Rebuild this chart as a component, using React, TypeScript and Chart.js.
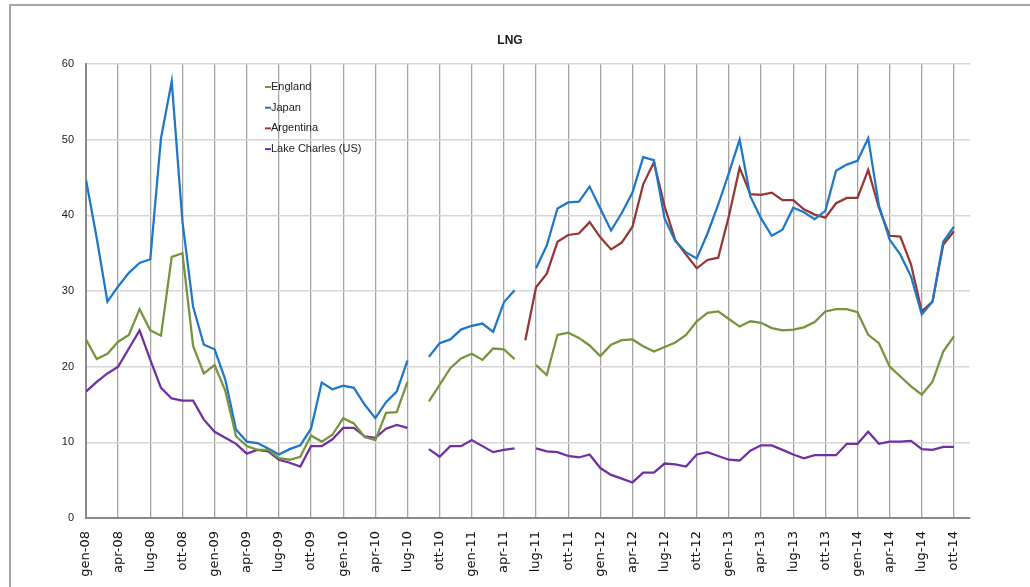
import React, { useEffect, useRef } from 'react';
import { Chart, registerables } from 'chart.js';

Chart.register(...registerables);

const titleText = 'LNG';

const categories = [
  'gen-08', 'feb-08', 'mar-08', 'apr-08', 'mag-08', 'giu-08', 'lug-08', 'ago-08', 'set-08', 'ott-08', 'nov-08', 'dic-08',
  'gen-09', 'feb-09', 'mar-09', 'apr-09', 'mag-09', 'giu-09', 'lug-09', 'ago-09', 'set-09', 'ott-09', 'nov-09', 'dic-09',
  'gen-10', 'feb-10', 'mar-10', 'apr-10', 'mag-10', 'giu-10', 'lug-10', 'ago-10', 'set-10', 'ott-10', 'nov-10', 'dic-10',
  'gen-11', 'feb-11', 'mar-11', 'apr-11', 'mag-11', 'giu-11', 'lug-11', 'ago-11', 'set-11', 'ott-11', 'nov-11', 'dic-11',
  'gen-12', 'feb-12', 'mar-12', 'apr-12', 'mag-12', 'giu-12', 'lug-12', 'ago-12', 'set-12', 'ott-12', 'nov-12', 'dic-12',
  'gen-13', 'feb-13', 'mar-13', 'apr-13', 'mag-13', 'giu-13', 'lug-13', 'ago-13', 'set-13', 'ott-13', 'nov-13', 'dic-13',
  'gen-14', 'feb-14', 'mar-14', 'apr-14', 'mag-14', 'giu-14', 'lug-14', 'ago-14', 'set-14', 'ott-14',
];

const england = [
  23.6, 21.0, 21.7, 23.3, 24.2, 27.6, 24.8, 24.1, 34.5, 35.0, 22.7, 19.1,
  20.2, 16.8, 10.8, 9.5, 9.0, 9.0, 7.9, 7.7, 8.1, 10.9, 10.1, 11.0,
  13.2, 12.5, 10.7, 10.3, 13.9, 14.0, 18.0, null, 15.4, 17.6, 19.8, 21.1,
  21.7, 20.9, 22.4, 22.3, 21.0, null, 20.2, 18.9, 24.2, 24.5, 23.8, 22.8,
  21.4, 22.9, 23.5, 23.6, 22.7, 22.0, 22.6, 23.2, 24.2, 26.0, 27.1, 27.3,
  26.3, 25.3, 26.0, 25.8, 25.1, 24.8, 24.9, 25.2, 25.9, 27.3, 27.6, 27.6,
  27.2, 24.2, 23.1, 20.0, 18.7, 17.4, 16.3, 18.0, 22.0, 24.0,
];

const japan = [
  44.7, 37.0, 28.6, 30.6, 32.4, 33.7, 34.2, 50.2, 57.7, 39.2, 27.9, 22.9,
  22.3, 18.3, 11.7, 10.1, 9.9, 9.2, 8.4, 9.1, 9.6, 11.8, 17.9, 17.0,
  17.5, 17.2, 15.0, 13.2, 15.3, 16.7, 20.8, null, 21.3, 23.1, 23.6, 24.9,
  25.4, 25.7, 24.6, 28.5, 30.1, null, 33.0, 36.0, 40.9, 41.7, 41.8, 43.8,
  40.9, 38.0, 40.3, 43.0, 47.7, 47.3, 39.6, 36.6, 35.1, 34.3, 37.6, 41.4,
  45.6, 50.0, 42.5, 39.6, 37.3, 38.1, 41.0, 40.4, 39.5, 40.6, 45.9, 46.7,
  47.2, 50.2, 41.3, 36.8, 34.8, 31.9, 26.9, 28.6, 36.5, 38.5,
];

const argentina = [
  null, null, null, null, null, null, null, null, null, null, null, null,
  null, null, null, null, null, null, null, null, null, null, null, null,
  null, null, null, null, null, null, null, null, null, null, null, null,
  null, null, null, null, null, 23.5, 30.5, 32.3, 36.5, 37.4, 37.6, 39.1,
  37.1, 35.5, 36.4, 38.5, 44.1, 47.0, 41.2, 36.7, 34.8, 33.0, 34.1, 34.4,
  39.9, 46.3, 42.8, 42.7, 43.0, 42.0, 42.0, 40.8, 40.1, 39.7, 41.6, 42.3,
  42.3, 46.0, 41.0, 37.3, 37.2, 33.5, 27.3, 28.6, 36.1, 37.9,
];

const lakeCharles = [
  16.7, 18.0, 19.1, 20.0, 22.4, 24.8, 20.9, 17.2, 15.8, 15.5, 15.5, 13.0,
  11.4, 10.6, 9.8, 8.5, 9.0, 8.8, 7.7, 7.3, 6.8, 9.5, 9.5, 10.4,
  11.9, 11.9, 10.8, 10.6, 11.8, 12.3, 11.9, null, 9.1, 8.1, 9.5, 9.5,
  10.3, 9.5, 8.7, 9.0, 9.2, null, 9.2, 8.8, 8.7, 8.2, 8.0, 8.4,
  6.6, 5.7, 5.2, 4.7, 6.0, 6.0, 7.2, 7.1, 6.8, 8.4, 8.7, 8.2,
  7.7, 7.6, 8.9, 9.6, 9.6, 9.0, 8.4, 7.9, 8.3, 8.3, 8.3, 9.8,
  9.8, 11.4, 9.8, 10.1, 10.1, 10.2, 9.1, 9.0, 9.4, 9.4,
];

const seriesNames = ['England', 'Japan', 'Argentina', 'Lake Charles (US)'];
const seriesColors = ['#77933C', '#1F77C8', '#953735', '#7030A0'];
const seriesValues = [england, japan, argentina, lakeCharles];

const FONT = '"Liberation Sans", Arial, sans-serif';
const TICK_FONT = '"DejaVu Sans", "Liberation Sans", sans-serif';

const decorations = {
  id: 'decorations',
  beforeDraw(chart: any) {
    const { ctx } = chart;
    ctx.save();
    ctx.fillStyle = '#ffffff';
    ctx.fillRect(0, 0, chart.width, chart.height);
    ctx.strokeStyle = '#a6a6a6';
    ctx.lineWidth = 2;
    ctx.strokeRect(10, 5, chart.width + 40, chart.height + 40);
    ctx.restore();
  },
  afterDraw(chart: any) {
    const { ctx } = chart;
    ctx.save();
    ctx.font = `bold 12px ${FONT}`;
    ctx.fillStyle = '#1a1a1a';
    ctx.textAlign = 'center';
    ctx.textBaseline = 'middle';
    ctx.fillText(titleText, 510, 41);

    ctx.font = `11px ${FONT}`;
    ctx.textAlign = 'left';
    chart.data.datasets.forEach((ds: any, i: number) => {
      const y = 87 + i * 20.7;
      ctx.strokeStyle = ds.borderColor;
      ctx.lineWidth = 2;
      ctx.beginPath();
      ctx.moveTo(265, y);
      ctx.lineTo(271, y);
      ctx.stroke();
      ctx.fillStyle = '#222222';
      ctx.fillText(ds.label, 271, y);
    });
    ctx.restore();
  },
};

export default function App() {
  const canvasRef = useRef<HTMLCanvasElement | null>(null);

  useEffect(() => {
    document.body.style.margin = '0';
    document.body.style.overflow = 'hidden';
    const canvas = canvasRef.current;
    if (!canvas) return;

    const datasets = seriesNames.map((name, i) => ({
      label: name,
      data: seriesValues[i].map((v, k) => ({ x: k, y: v })),
      borderColor: seriesColors[i],
      backgroundColor: seriesColors[i],
      borderWidth: 2.25,
      pointRadius: 0,
      tension: 0,
      spanGaps: false,
      fill: false,
    }));

    const chart = new Chart(canvas, {
      type: 'line',
      data: { datasets },
      plugins: [decorations],
      options: {
        animation: false,
        responsive: false,
        devicePixelRatio: 1,
        layout: { padding: { top: 64, right: 60, bottom: 0, left: 0 } },
        plugins: {
          legend: { display: false },
          title: { display: false },
          tooltip: { enabled: false },
        },
        scales: {
          x: {
            type: 'linear',
            min: 0,
            max: 82.5,
            afterFit: (s: any) => {
              s.height = 69;
            },
            grid: {
              color: (c: any) =>
                c.tick && Number.isInteger(c.tick.value) && c.tick.value % 3 === 0
                  ? '#a3a3a3'
                  : 'rgba(0,0,0,0)',
              lineWidth: 1.3,
              drawTicks: false,
            },
            border: { color: '#8a8a8a', width: 2 },
            ticks: {
              stepSize: 3,
              autoSkip: false,
              includeBounds: false,
              maxRotation: 90,
              minRotation: 90,
              padding: 13,
              color: '#111111',
              font: { family: TICK_FONT, size: 13 },
              callback: (v: any) =>
                Number.isInteger(v) && v % 3 === 0 && categories[v] ? categories[v] : '',
            },
          },
          y: {
            min: 0,
            max: 60,
            afterFit: (s: any) => {
              s.width = 86;
            },
            grid: { color: '#d6d6d6', lineWidth: 1.5, drawTicks: false },
            border: { color: '#8a8a8a', width: 2 },
            ticks: {
              stepSize: 10,
              padding: 12,
              color: '#1a1a1a',
              font: { family: FONT, size: 11 },
            },
          },
        },
      } as any,
    });

    return () => {
      chart.destroy();
    };
  }, []);

  return (
    <div style={{ position: 'relative', width: 1030, height: 587, overflow: 'hidden' }}>
      <canvas ref={canvasRef} width={1030} height={587} style={{ display: 'block' }} />
    </div>
  );
}
